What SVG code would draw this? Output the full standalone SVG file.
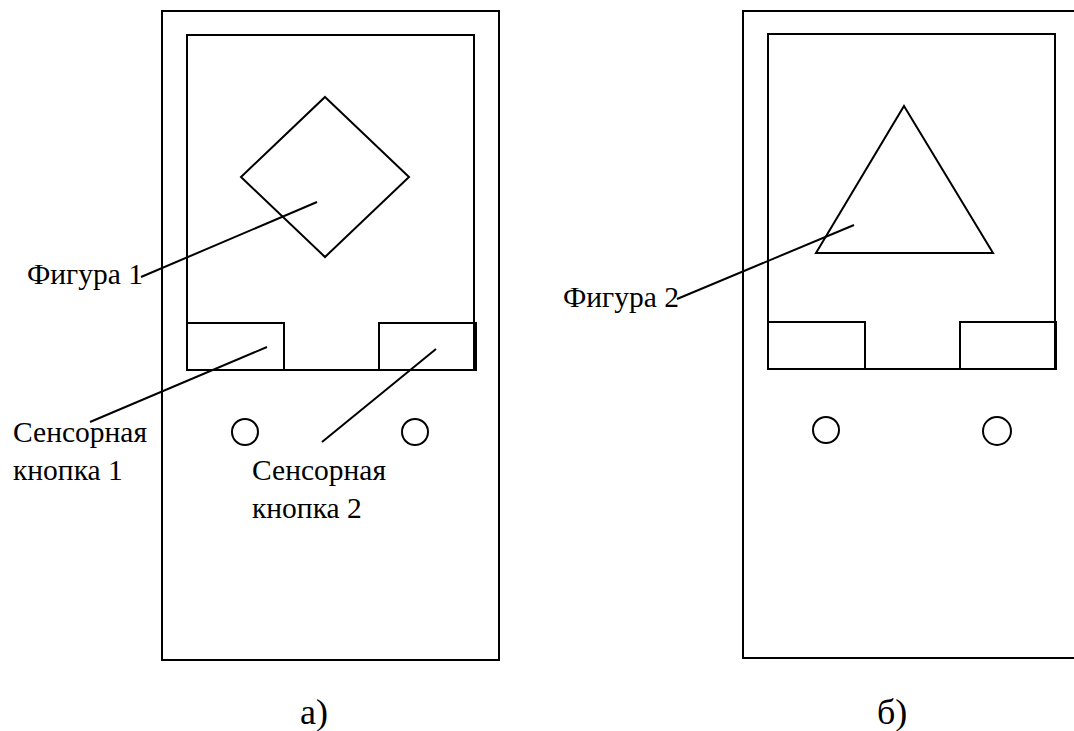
<svg xmlns="http://www.w3.org/2000/svg" width="1074" height="731" viewBox="0 0 1074 731">
<style>
.s{fill:none;stroke:#000;stroke-width:2}
.l{fill:none;stroke:#000;stroke-width:2}
.t{font-family:"Liberation Serif","Times New Roman",serif;font-size:29.5px;fill:#000}
.c{font-family:"Liberation Serif","Times New Roman",serif;font-size:36px;fill:#000}
</style>
<rect width="1074" height="731" fill="#fff"/>
<g id="device-a">
<rect class="s" x="162" y="11" width="337" height="649"/>
<rect class="s" x="187" y="35" width="287" height="335"/>
<polygon class="s" points="325,97 409,177 325,257 241,177"/>
<rect class="s" x="187" y="323" width="97" height="47"/>
<rect class="s" x="379" y="323" width="97" height="47"/>
<circle class="s" cx="245" cy="432" r="13"/>
<circle class="s" cx="415" cy="432" r="13"/>
</g>
<g id="device-b">
<rect class="s" x="743" y="11" width="345" height="647"/>
<rect class="s" x="768" y="34" width="287" height="335"/>
<polygon class="s" points="904,106 993,253 816,253"/>
<rect class="s" x="768" y="322" width="97" height="47"/>
<rect class="s" x="960" y="322" width="96" height="47"/>
<circle class="s" cx="826" cy="430" r="13"/>
<circle class="s" cx="997" cy="431" r="14"/>
</g>
<g id="connectors">
<line class="l" x1="141" y1="277" x2="317" y2="202"/>
<line class="l" x1="90" y1="422" x2="267" y2="347"/>
<line class="l" x1="322" y1="442" x2="436" y2="349"/>
<line class="l" x1="677" y1="299" x2="854" y2="225"/>
</g>
<g id="labels">
<text class="t" x="27" y="284">Фигура 1</text>
<text class="t" x="13" y="442">Сенсорная</text>
<text class="t" x="13" y="480">кнопка 1</text>
<text class="t" x="252" y="480">Сенсорная</text>
<text class="t" x="252" y="518">кнопка 2</text>
<text class="t" x="563" y="307">Фигура 2</text>
<text class="c" x="300" y="724">а)</text>
<text class="c" x="877" y="724">б)</text>
</g>
</svg>
